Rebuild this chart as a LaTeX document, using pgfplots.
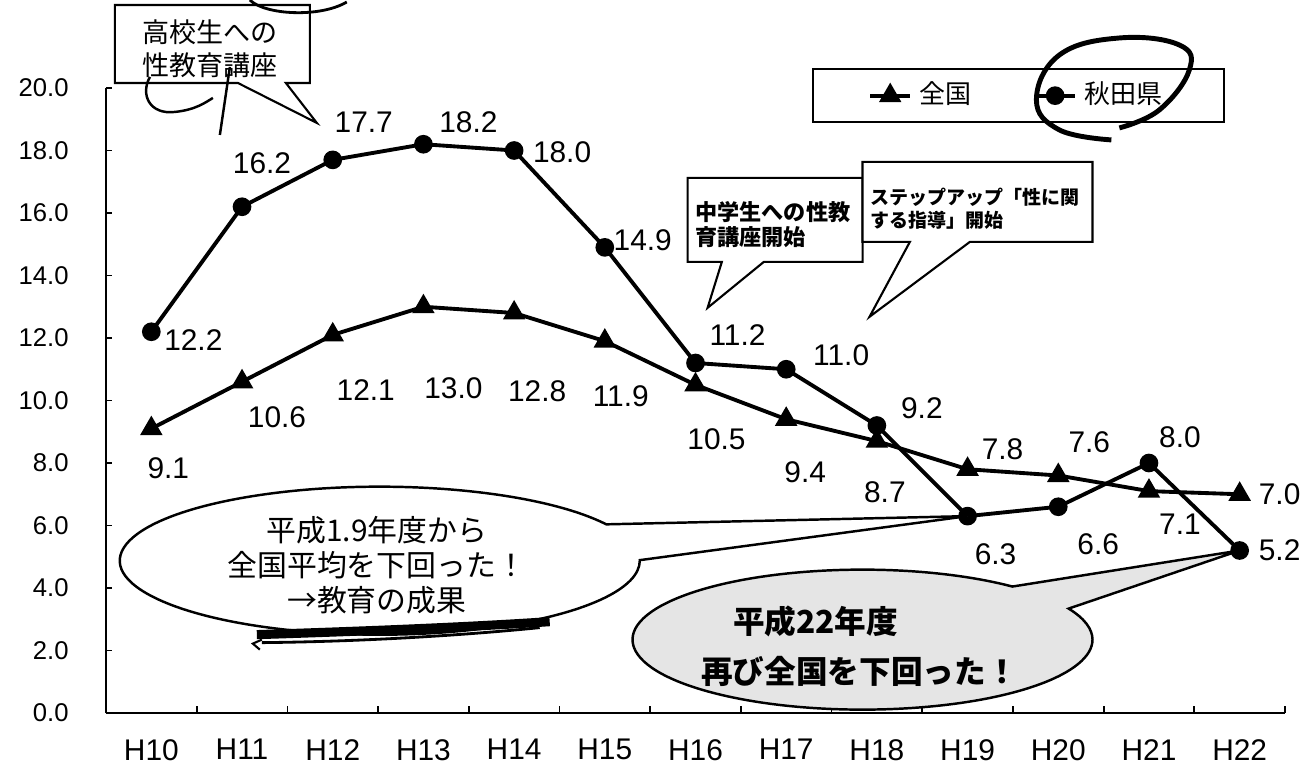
\documentclass[border=0pt]{standalone}
\usepackage{fontspec}
\setmainfont{Liberation Sans}
\newfontfamily\jp{Noto Sans CJK JP}
\usepackage{pgfplots}
\pgfplotsset{compat=1.18}
\usepackage{pgfplotstable}
\usetikzlibrary{shapes.callouts,calc}

% x = category index (H10 = 0), dx/dy = label offset in px (dy up)
\pgfplotstableread{
x y dx dy
0 9.1 17 -40
1 10.6 35 -35
2 12.1 33 -55
3 13.0 30 -82
4 12.8 23 -78
5 11.9 16 -55
6 10.5 21 -54
7 9.4 19 -53
8 8.7 8 -51
9 7.8 35 20
10 7.6 31 33
11 7.1 31 -33
12 7.0 40 0
}\zenkoku

\pgfplotstableread{
x y dx dy
0 12.2 42 -8
1 16.2 20 44
2 17.7 31 38
3 18.2 45 22
4 18.0 48 -2
5 14.9 38 7
6 11.2 42 28
7 11.0 55 14
8 9.2 45 17
9 6.3 28 -38
10 6.6 40 -37
11 8.0 31 26
12 5.2 40 0
}\akita

\begin{document}
\begin{tikzpicture}
\begin{axis}[
  scale only axis,
  width=11.79cm, height=6.25cm,
  xmin=-0.5, xmax=12.5, ymin=0, ymax=20,
  clip=false,
  axis x line*=bottom, axis y line*=left,
  every outer x axis line/.append style={-, line width=0.6pt},
  every outer y axis line/.append style={-, line width=0.6pt},
  xtick={0,...,12},
  xticklabels={H10,H11,H12,H13,H14,H15,H16,H17,H18,H19,H20,H21,H22},
  major x tick style={draw=none},
  minor xtick={-0.5,0.5,...,12.5},
  minor tick length=0.07cm,
  ytick={0,2,...,20},
  major tick length=0.06cm,
  tick align=inside,
  tick style={line width=0.5pt, black},
  yticklabel={\pgfmathprintnumber[fixed,fixed zerofill,precision=1,assume math mode=true]{\tick}},
  yticklabel style={font=\fontsize{7.3}{8}\selectfont, xshift=-0.25cm},
  xticklabel style={font=\fontsize{8.5}{10}\selectfont, yshift=-0.14cm},
  legend columns=2,
  legend style={at={(0.599,1.032)}, anchor=north west, draw=black, line width=0.6pt,
    font=\jp\fontsize{7.4}{8}\selectfont, inner xsep=0.55cm, inner ysep=0.06cm,
    /tikz/every even column/.append style={column sep=0.55cm}},
  legend image code/.code={\draw[mark repeat=2,mark phase=2,#1] plot coordinates {(0cm,0cm) (0.2cm,0cm) (0.4cm,0cm)};},
  nodes near coords={\pgfmathprintnumber[fixed,fixed zerofill,precision=1,assume math mode=true]{\pgfplotspointmeta}},
  visualization depends on={\thisrow{dx} \as \dx},
  visualization depends on={\thisrow{dy} \as \dy},
  every node near coord/.append style={anchor=center, xshift={\dx*0.01cm}, yshift={\dy*0.01cm},
    font=\fontsize{8.5}{10}\selectfont, black},
]
\addplot[black, line width=1.1pt, mark=triangle*, mark size=2.6pt, mark options={solid}]
  table[x=x, y=y] {\zenkoku};
\addlegendentry{全国}
\addplot[black, line width=1.1pt, mark=*, mark size=2.1pt, mark options={solid}]
  table[x=x, y=y] {\akita};
\addlegendentry{秋田県}
\coordinate (TL) at (rel axis cs:0,1);
\coordinate (a19) at (axis cs:9,6.3);
\coordinate (a22) at (axis cs:12,5.2);
\end{axis}

% annotations, in pixels of the 1311x765 frame
\begin{scope}[shift={($(TL)+(-1.06cm,0.88cm)$)}, x=0.01cm, y=-0.01cm]
  \coordinate (t1) at (317,123);
  \coordinate (t2) at (708,308);
  \coordinate (t3) at (870,317);
  \node[rectangle callout, draw=black, line width=0.6pt, fill=white, minimum width=1.95cm,
    minimum height=0.78cm, inner sep=0pt, callout absolute pointer=(t1),
    callout pointer width=0.48cm] at (212.5,44) {};
  \node[font=\jp\fontsize{7.7}{9.4}\selectfont, align=center] at (210,48.5) {高校生への\\性教育講座};
  \node[rectangle callout, draw=black, line width=0.6pt, fill=white, minimum width=1.75cm,
    minimum height=0.84cm, inner sep=0pt, callout absolute pointer=(t2),
    callout pointer width=0.42cm] at (775.5,220) {};
  \node[anchor=west, inner sep=0pt, align=left, font=\jp\bfseries\fontsize{6.3}{7.1}\selectfont]
    at (695,224.5) {中学生への性教\\育講座開始};
  \node[rectangle callout, draw=black, line width=0.6pt, fill=white, minimum width=2.30cm,
    minimum height=0.80cm, inner sep=0pt, callout absolute pointer=(t3),
    callout pointer width=0.60cm] at (978,202) {};
  \node[anchor=west, inner sep=0pt, align=left, font=\jp\bfseries\fontsize{5.4}{6.5}\selectfont]
    at (870,208.5) {ステップアップ「性に関\\する指導」開始};
  % ellipse callouts
  \node[ellipse callout, draw=black, line width=0.7pt, fill=white, minimum width=5.2cm,
    minimum height=1.48cm, inner sep=0pt, callout absolute pointer=(a19),
    callout pointer arc=29] at (380,561) {};
  \node[font=\jp\fontsize{8.5}{9.96}\selectfont, align=center] at (377,566)
    {平成1.9年度から\\全国平均を下回った！\\→教育の成果};
  \node[ellipse callout, draw=black, line width=0.7pt, fill=black!10, minimum width=4.6cm,
    minimum height=1.40cm, inner sep=0pt, callout absolute pointer=(a22),
    callout pointer arc=23] at (863,640) {};
  \node[font=\jp\bfseries\fontsize{9}{10}\selectfont] at (816,622) {平成22年度};
  \node[font=\jp\bfseries\fontsize{9}{10}\selectfont] at (860,672) {再び全国を下回った！};
  % hand-drawn marks
  \draw[line width=1.4pt] plot[smooth, tension=0.7] coordinates
    {(1112,140) (1060,130) (1037,100) (1060,55) (1120,38) (1180,45) (1190,70) (1160,110) (1120,128)};
  \draw[line width=0.8pt] (250,0) .. controls (265,15) and (320,18) .. (347,2);
  \draw[line width=0.7pt] (150,77) .. controls (140,95) and (150,115) .. (175,112)
    .. controls (195,110) and (205,103) .. (213,98);
  \draw[line width=0.7pt] (230,67) -- (220,135);
  \draw[line width=2.6pt] (257,635) .. controls (350,632) and (460,628) .. (550,622);
  \draw[line width=0.8pt] (262,643) .. controls (360,642) and (460,636) .. (540,628);
  \draw[line width=0.6pt] (262,640) -- (253,644) -- (260,650);
\end{scope}
\pgfresetboundingbox
\path[use as bounding box] ($(TL)+(-1.06cm,0.88cm)$) rectangle ++(13.11cm,-7.65cm);
\end{tikzpicture}
\end{document}
